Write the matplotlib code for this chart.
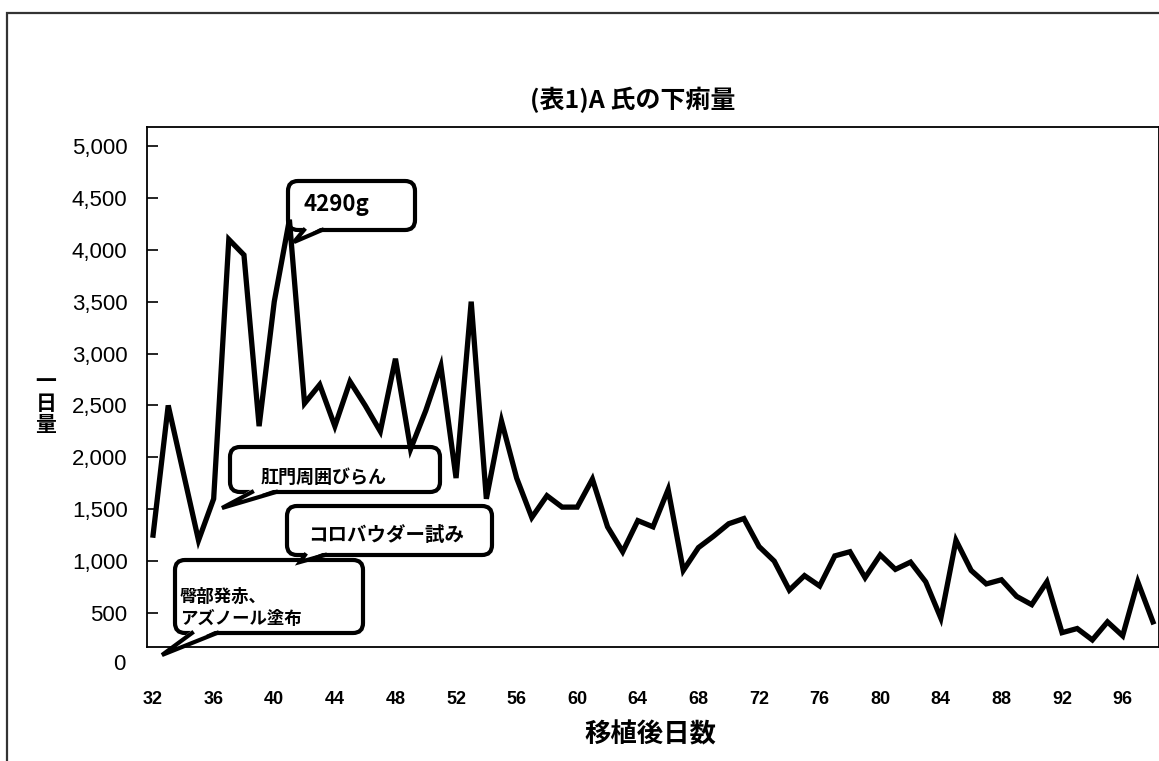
import matplotlib
matplotlib.use("Agg")
import matplotlib.pyplot as plt
from matplotlib.patches import FancyBboxPatch, Polygon, Rectangle
from matplotlib.lines import Line2D
from matplotlib.transforms import IdentityTransform, blended_transform_factory

plt.rcParams['font.family'] = ['Noto Sans CJK JP', 'DejaVu Sans']

# ---- data -------------------------------------------------------------
days = list(range(32, 99))
amount = [
    1250, 2500, 1850, 1200, 1600, 4100, 3950, 2300, 3500, 4290,
    2520, 2700, 2300, 2730, 2500, 2250, 2950, 2080, 2450, 2880,
    1800, 3500, 1600, 2350, 1800, 1420, 1630, 1520, 1520, 1790,
    1330, 1090, 1390, 1330, 1690, 910, 1130, 1240, 1360, 1410,
    1140, 1000, 720, 860, 760, 1050, 1090, 840, 1060, 920,
    990, 800, 450, 1200, 910, 780, 820, 660, 580, 800,
    310, 350, 240, 414, 280, 800, 414,
]
x_ticks = list(range(32, 97, 4))
y_ticks = list(range(500, 5001, 500))

title = "(表1)A 氏の下痢量"
x_label = "移植後日数"
y_label = "一\n日\n量"
peak_label = "4290g"
note_skin = "肛門周囲びらん"
note_powder = "コロバウダー試み"
note_buttock = "臀部発赤、\nアズノール塗布"

# ---- figure -----------------------------------------------------------
W, H = 1159, 761
fig = plt.figure(figsize=(W / 100, H / 100), dpi=100)
fig.patch.set_facecolor("white")

# outer chart border (left and top visible)
fig.add_artist(Rectangle((7 / W, -0.05), 1.2, 1 - 13 / H + 0.05,
                         transform=fig.transFigure, fill=False,
                         ec="#333333", lw=1.6))

ax = fig.add_axes([147 / W, (H - 647) / H, (W - 147) / W, 520 / H])
ax.set_xlim(31.6, 98.4)
ax.set_ylim(172, 5183)

ax.plot(days, amount, color="black", lw=3.8, solid_joinstyle="miter",
        zorder=5, clip_on=False)

for s in ax.spines.values():
    s.set_color("black")
    s.set_linewidth(1.3)

ax.set_yticks(y_ticks)
ax.set_yticklabels([f"{v:,}" for v in y_ticks],
                   fontsize=16, family=["Liberation Sans", "DejaVu Sans"])
ax.tick_params(axis="y", direction="in", length=8, width=1.2, pad=14)
ax.text(-0.0215, 0, "0", transform=blended_transform_factory(ax.transAxes, ax.transData),
        ha="right", va="center", fontsize=16,
        family=["Liberation Sans", "DejaVu Sans"], clip_on=False)

ax.set_xticks(x_ticks)
ax.set_xticklabels([str(v) for v in x_ticks], fontsize=13, fontweight="bold",
                   family=["Liberation Sans Narrow", "Liberation Sans", "DejaVu Sans"])
ax.tick_params(axis="x", direction="in", length=0, pad=32)

fig.text(633 / W, 1 - 100 / H, title, ha="center", va="center",
         fontsize=18, fontweight="bold")
fig.text(650 / W, 1 - 735 / H, x_label, ha="center", va="center",
         fontsize=19, fontweight="bold")
fig.text(46 / W, 1 - 403 / H, y_label, ha="center", va="center",
         fontsize=15, fontweight="bold", linespacing=1.05)

# ---- callouts (pixel layout, origin top-left) --------------------------
ident = IdentityTransform()


def callout(box, base, tip, lw=3.0, r=10):
    x0, y0, x1, y1 = box
    patch = FancyBboxPatch((x0 + r, H - y1 + r), (x1 - x0) - 2 * r,
                           (y1 - y0) - 2 * r, boxstyle=f"round,pad={r}",
                           transform=ident, fc="white", ec="black", lw=lw,
                           zorder=3, clip_on=False)
    ax.add_artist(patch)
    (bx0, by0), (bx1, by1) = base
    tx, ty = tip
    fill = Polygon([(bx0, H - by0 + 3), (tx, H - ty), (bx1, H - by1 + 3)],
                   closed=True, transform=ident, fc="white", ec="none",
                   zorder=3.1, clip_on=False)
    ax.add_artist(fill)
    edge = Line2D([bx0, tx, bx1], [H - by0, H - ty, H - by1], transform=ident,
                  color="black", lw=lw, solid_joinstyle="miter",
                  zorder=3.2, clip_on=False)
    ax.add_artist(edge)


def note(x, y, s, size, ha="center"):
    ax.text(x, H - y, s, transform=ident, ha=ha, va="center", fontsize=size,
            fontweight="bold", zorder=3.5, clip_on=False, linespacing=1.3)


callout((288, 181, 415, 230), ((304, 230), (322, 230)), (294, 242))
note(303, 205, peak_label, 16, ha="left")

callout((230, 447, 440, 492), ((252, 492), (276, 492)), (222, 508))
note(324, 477, note_skin, 13)

callout((287, 506, 492, 555), ((305, 555), (325, 555)), (300, 562))
note(386, 535, note_powder, 14)

callout((175, 560, 363, 633), ((192, 633), (217, 633)), (162, 655))
note(180, 608, note_buttock, 12.5, ha="left")

fig.savefig("out.png", dpi=100, facecolor="white")
